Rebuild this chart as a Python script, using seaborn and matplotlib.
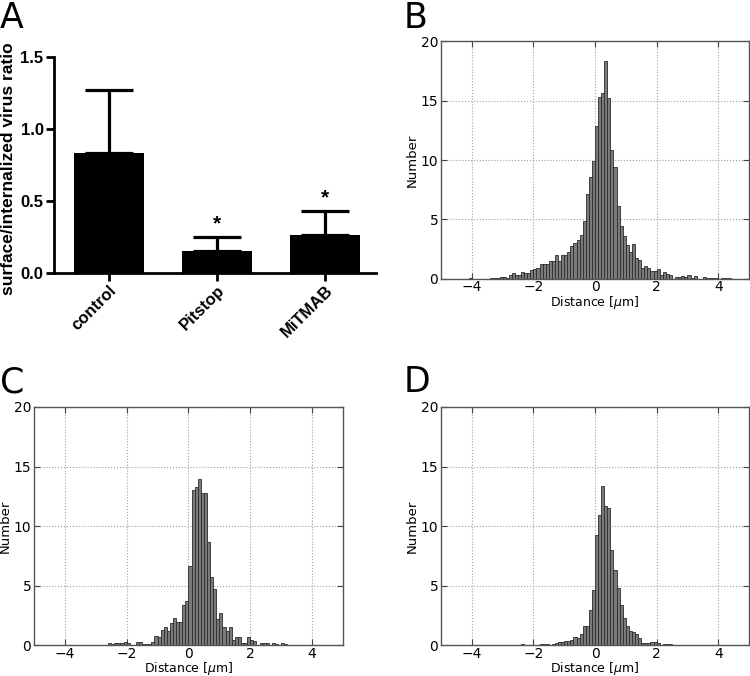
import numpy as np
import pandas as pd
import matplotlib
matplotlib.use("Agg")
import matplotlib.pyplot as plt
import seaborn as sns

# painel A: razão superfície/internalizado
grupos = ["control", "Pitstop", "MiTMAB"]
media = [0.83, 0.15, 0.26]
erro = [0.44, 0.095, 0.17]
signif = ["", "*", "*"]

# histogramas B, C, D: bins de 0.1 µm de -5 a 5
bordas = np.round(np.arange(-5.0, 5.01, 0.1), 2)
centros = (bordas[:-1] + bordas[1:]) / 2

hist_b = [0.02, 0.0, 0.02, 0.02, 0.0, 0.03, 0.02, 0.02, 0.03,
          0.06, 0.03, 0.03, 0.03, 0.0, 0.03, 0.03, 0.06, 0.08, 0.08,
          0.17, 0.17, 0.06, 0.33, 0.53, 0.3, 0.3, 0.56, 0.48, 0.5,
          0.76, 0.84, 0.92, 1.23, 1.23, 1.23, 1.5, 1.5, 2.0, 1.5,
          2.0, 2.05, 2.3, 2.8, 3.05, 3.25, 3.7, 4.9, 7.15, 8.6, 9.95,
          12.9, 15.3, 15.65, 18.3, 15.2, 10.8, 9.4, 6.1, 4.45, 3.6,
          2.85, 2.3, 2.9, 1.8, 1.6, 0.9, 1.1, 0.95, 0.65, 0.65,
          0.85, 0.35, 0.6, 0.45, 0.35, 0.0, 0.2, 0.2, 0.28, 0.2,
          0.3, 0.1, 0.22, 0.0, 0.0, 0.15, 0.05, 0.06, 0.06, 0.06,
          0.0, 0.05, 0.05, 0.05, 0.03, 0.03, 0.03, 0.03, 0.03, 0.03]

hist_c = [0.0, 0.0, 0.0, 0.0, 0.0, 0.0, 0.02, 0.02, 0.02, 0.02,
          0.02, 0.02, 0.02, 0.02,
          0.06, 0.0, 0.0, 0.04, 0.04, 0.04, 0.04, 0.04, 0.04, 0.06,
          0.17, 0.11, 0.17, 0.17, 0.22, 0.33, 0.22, 0.0, 0.0, 0.28,
          0.28, 0.14, 0.14, 0.14, 0.25, 0.78, 0.67, 1.26, 1.54, 1.17,
          1.87, 2.26, 1.96, 1.96, 3.41, 3.74, 6.7, 13.07, 13.27, 13.97,
          12.8, 12.8, 8.66, 5.75, 4.75, 2.23, 2.74, 1.54, 1.17, 1.54,
          0.47, 0.73, 0.67, 0.22, 0.22, 0.67, 0.47, 0.36, 0.0, 0.22,
          0.22, 0.17, 0.0, 0.17, 0.11, 0.0, 0.22, 0.11, 0.0, 0.0,
          0.04, 0.04, 0.04, 0.0, 0.02, 0.02, 0.02, 0.0, 0.03, 0.03,
          0.03, 0.03, 0.03, 0.03, 0.03, 0.03]

hist_d = [0.03, 0.03, 0.03, 0.03,
          0.0, 0.0, 0.0, 0.0, 0.0, 0.0, 0.0, 0.0, 0.0, 0.0,
          0.0, 0.0, 0.0, 0.0, 0.0, 0.0, 0.0, 0.0, 0.0, 0.0,
          0.06, 0.0, 0.11, 0.0, 0.03, 0.0, 0.0, 0.06, 0.14, 0.11,
          0.11, 0.0, 0.08, 0.2, 0.31, 0.31, 0.36, 0.36, 0.42, 0.67,
          0.59, 0.92, 1.62, 1.62, 3.01, 4.63, 9.29, 10.93, 13.39, 11.66,
          11.55, 8.0, 6.36, 4.83, 3.35, 2.29, 1.59, 1.2, 1.12, 0.92,
          0.59, 0.17, 0.22, 0.17, 0.31, 0.25, 0.17, 0.05, 0.14, 0.08,
          0.08, 0.03, 0.0,
          0.05, 0.05, 0.05, 0.05, 0.05, 0.05, 0.05,
          0.0, 0.0, 0.0, 0.0, 0.0, 0.0, 0.0, 0.0, 0.0, 0.0,
          0.0, 0.0, 0.0, 0.0, 0.0, 0.0]

fig = plt.figure(figsize=(7.5, 6.76), dpi=100)

# --- A ---
axA = fig.add_axes([0.072, 0.5966, 0.429, 0.3195])
sns.barplot(x=grupos, y=media, color="black", width=0.65, errorbar=None,
            saturation=1, ax=axA)
axA.errorbar(range(len(grupos)), media, yerr=[[0] * 3, erro], fmt="none",
             ecolor="black", elinewidth=2.3, capsize=17, capthick=2.3)
for i, s in enumerate(signif):
    if s:
        axA.text(i, media[i] + erro[i] + 0.025, s, ha="center", va="bottom",
                 fontsize=15, fontweight="bold", family="Liberation Sans")
axA.set_xlim(-0.51, 2.47)
axA.set_ylim(0, 1.5)
axA.set_yticks([0.0, 0.5, 1.0, 1.5])
axA.set_yticklabels(["0.0", "0.5", "1.0", "1.5"])
for sp in ["top", "right"]:
    axA.spines[sp].set_visible(False)
for sp in ["left", "bottom"]:
    axA.spines[sp].set_linewidth(2.0)
axA.tick_params(width=2.0, length=6, labelsize=12, pad=1.5)
for lab in axA.get_yticklabels() + axA.get_xticklabels():
    lab.set_fontweight("bold")
    lab.set_family("Liberation Sans")
plt.setp(axA.get_xticklabels(), rotation=45, ha="right", rotation_mode="anchor")
axA.set_ylabel("surface/internalized virus ratio", fontsize=12.5,
               fontweight="bold", family="Liberation Sans")
axA.yaxis.set_label_coords(-0.118, 0.48)
axA.set_xlabel("")

# --- B, C, D ---
posicoes = {
    "B": [0.588, 0.5873, 0.4107, 0.352],
    "C": [0.0453, 0.0452, 0.412, 0.3528],
    "D": [0.588, 0.0452, 0.4107, 0.3528],
}
dados = {"B": hist_b, "C": hist_c, "D": hist_d}

for nome, pos in posicoes.items():
    ax = fig.add_axes(pos)
    df = pd.DataFrame({"dist": centros, "n": dados[nome]})
    sns.histplot(data=df, x="dist", weights="n", bins=list(bordas), ax=ax,
                 color="#7a7a7a", edgecolor="#2b2b2b", linewidth=0.6,
                 alpha=1)
    ax.set_xlim(-5, 5)
    ax.set_ylim(0, 20)
    ax.set_xticks([-4, -2, 0, 2, 4])
    ax.set_yticks([0, 5, 10, 15, 20])
    ax.grid(True, linestyle=":", color="#a0a0a0", linewidth=0.8)
    ax.set_axisbelow(True)
    ax.tick_params(direction="in", top=True, right=True, length=4,
                   labelsize=10, color="#444444", pad=2)
    ax.tick_params(axis="x", pad=1)
    for sp in ax.spines.values():
        sp.set_color("#555555")
        sp.set_linewidth(1.0)
    ax.set_xlabel(r"Distance [$\mu$m]", fontsize=9, labelpad=-0.5)
    ax.set_ylabel("Number", fontsize=9.5, labelpad=1.5)

# letras dos painéis
fig.text(0.0, 0.998, "A", fontsize=25, va="top", ha="left")
fig.text(0.538, 0.998, "B", fontsize=25, va="top", ha="left")
fig.text(0.0, 0.46, "C", fontsize=25, va="top", ha="left")
fig.text(0.538, 0.46, "D", fontsize=25, va="top", ha="left")

fig.savefig("out.png", dpi=100)
